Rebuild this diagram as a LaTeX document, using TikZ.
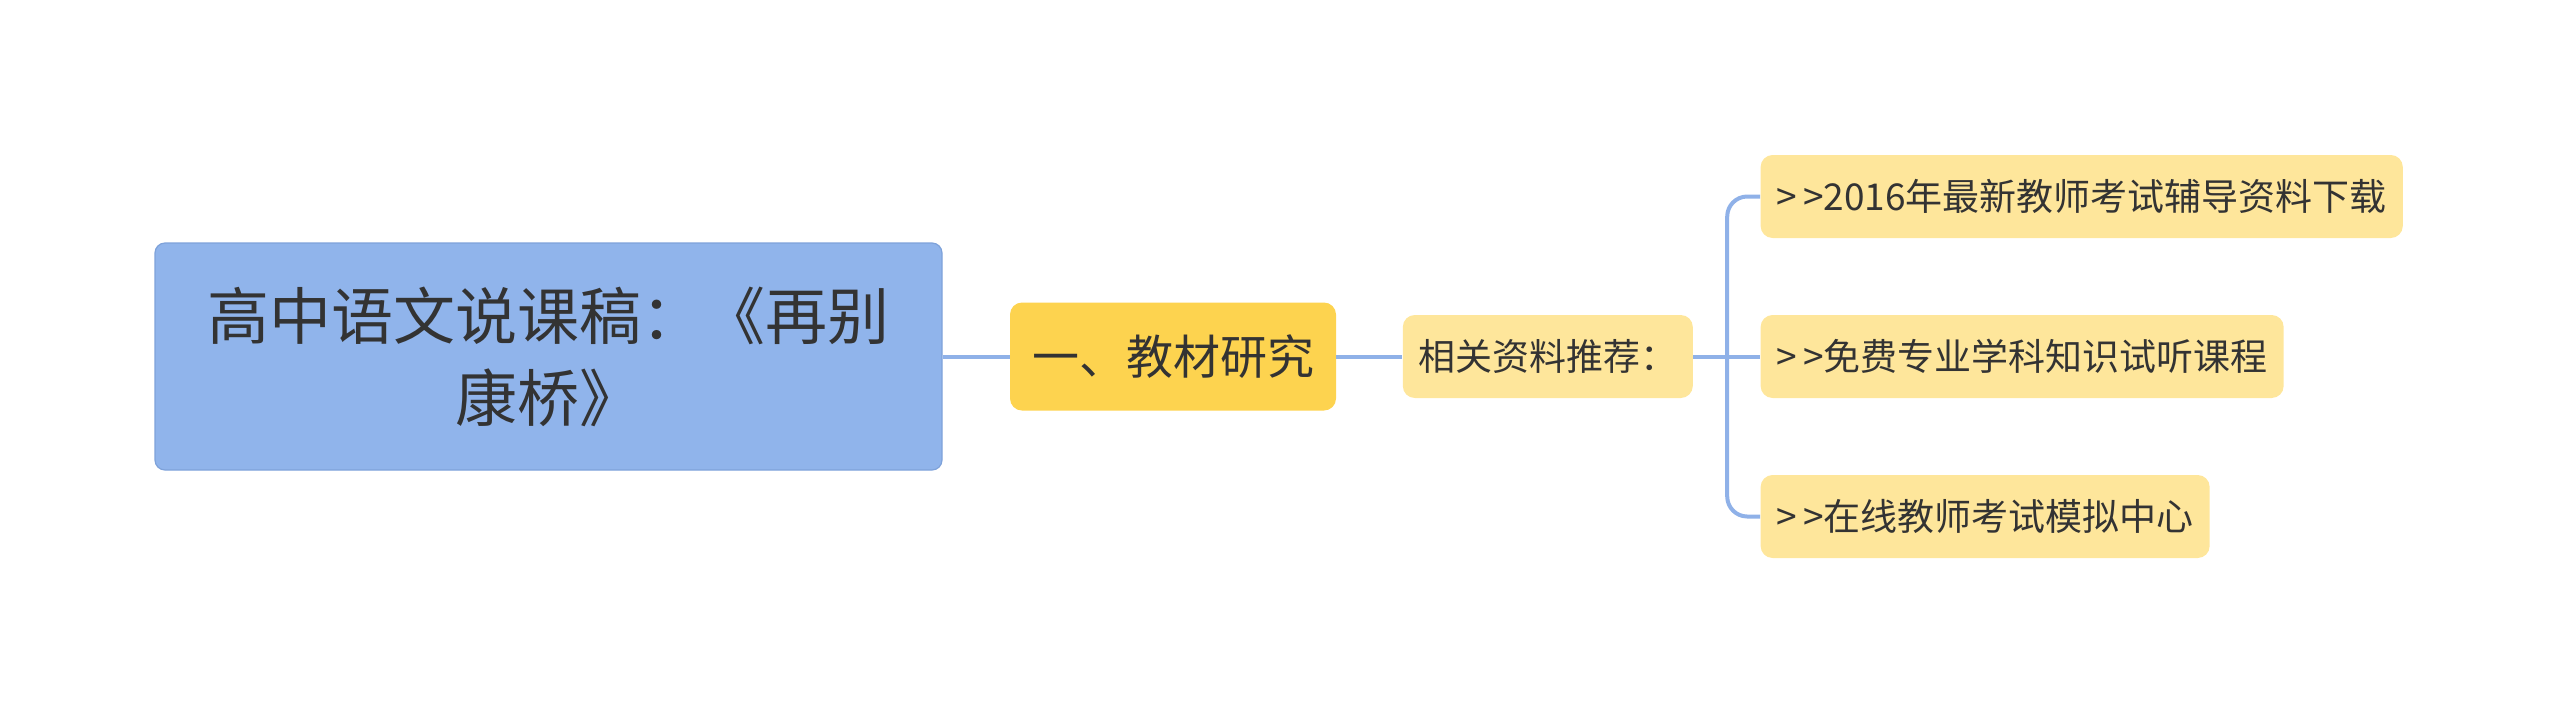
\documentclass[tikz,border=0pt]{standalone}
\usepackage{fontspec}
\usepackage{tikz}
\usetikzlibrary{positioning}
\newfontfamily\cjk{Noto Sans CJK SC}
\definecolor{rootblue}{HTML}{90B4EB}
\definecolor{rootedge}{HTML}{7EA2DA}
\definecolor{topicgold}{HTML}{FDD34F}
\definecolor{leafyellow}{HTML}{FEE69B}
\definecolor{linkblue}{HTML}{8FB1E8}
\definecolor{inkgray}{HTML}{333333}
\newcommand{\gt}{>\kern3pt>}

\begin{document}
\begin{tikzpicture}[
    x=0.5pt, y=-0.5pt,
    node distance=33.5pt,
    rootbox/.style={rectangle, rounded corners=5pt, fill=rootblue, draw=rootedge,
                line width=0.6pt, minimum width=393.5pt, minimum height=113.5pt,
                align=center, text=inkgray, font=\cjk\fontsize{31}{41}\selectfont},
    topicbox/.style={rectangle, rounded corners=6pt, fill=topicgold,
                minimum width=163pt, minimum height=54pt, inner sep=0pt,
                text=inkgray, font=\cjk\fontsize{23.5}{28}\selectfont},
    leafbox/.style={rectangle, rounded corners=6pt, fill=leafyellow,
                minimum height=41.5pt, inner xsep=8pt, inner ysep=0pt,
                text=inkgray, font=\cjk\fontsize{18.5}{22}\selectfont},
    link/.style={line width=2pt, color=linkblue}
  ]
    \useasboundingbox (0,0) rectangle (2560,714);
    \node[rootbox] (root) at (548.5,356.5) {高中语文说课稿：《再别\\康桥》};
    \node[topicbox, right=of root] (jcyj) {一、教材研究};
    \node[leafbox, right=33pt of jcyj, minimum width=145pt, inner xsep=4pt] (zltj) {相关资料推荐：};
    \node[leafbox, right=of zltj] (fmkc) {\gt 免费专业学科知识试听课程};
    \node[leafbox, anchor=west] (fdzl) at ([yshift=80pt]fmkc.west) {\gt 2016年最新教师考试辅导资料下载};
    \node[leafbox, anchor=west] (mnzx) at ([yshift=-80pt]fmkc.west) {\gt 在线教师考试模拟中心};
    \coordinate (fork) at ([xshift=17pt]zltj.east);
    \draw[link] (root) -- (jcyj);
    \draw[link] (jcyj) -- (zltj);
    \draw[link] (zltj) -- (fmkc);
    \draw[link, rounded corners=10pt] (fdzl.west) -| (fork) |- (mnzx.west);
  \end{tikzpicture}
\end{document}
